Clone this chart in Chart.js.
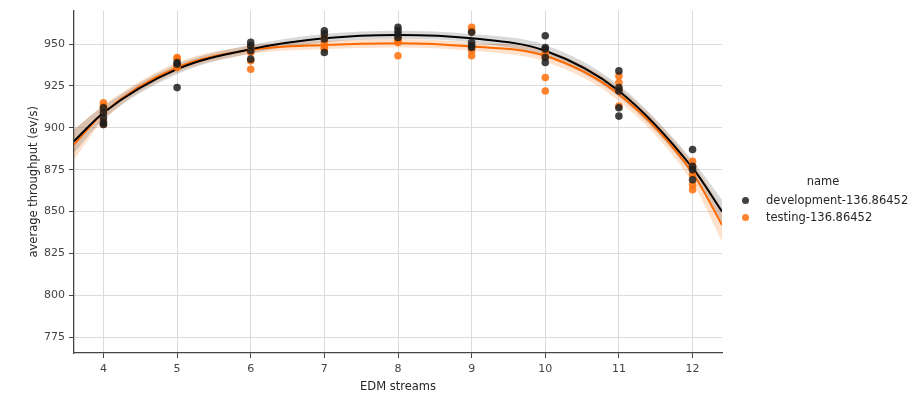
<!DOCTYPE html>
<html>
<head>
<meta charset="utf-8">
<script src="https://cdn.jsdelivr.net/npm/chart.js@4/dist/chart.umd.min.js"></script>
<style>
  html, body { margin: 0; padding: 0; background: #fff; }
  #wrap { position: relative; width: 923px; height: 404px; }
  #legend { position: absolute; left: 734px; top: 174px; font-family: "DejaVu Sans", sans-serif; font-size: 11.5px; color: #262626; }
  #legend .title { text-align: center; margin-bottom: 4px; padding-left: 4px; }
  #legend .item { height: 17px; line-height: 17px; white-space: nowrap; }
  #legend .dot { display: inline-block; width: 7px; height: 7px; border-radius: 50%; margin: 0 17px 1px 8px; vertical-align: middle; }
</style>
</head>
<body>
<div id="wrap">
  <canvas id="chart" width="923" height="404"></canvas>
  <div id="legend"></div>
</div>
<script>
// Series names
const seriesNames = ["development-136.86452", "testing-136.86452"];

// Axis ticks
const xTicks = [4, 5, 6, 7, 8, 9, 10, 11, 12];
const yTicks = [775, 800, 825, 850, 875, 900, 925, 950];

const devStreams = [4,4,4,4,4, 5,5,5, 6,6,6,6, 7,7,7,7, 8,8,8,8, 9,9,9,9, 10,10,10,10,10, 11,11,11,11,11, 12,12,12,12];
const devThroughput = [912,909,906,903,902, 939,938,924, 951,949,946,941, 958,956,953,945, 960,958,956,954, 957,951,949,948, 955,948,947,942,939, 934,924,922,912,907, 887,877,875,869];

const testStreams = [4,4,4,4,4, 5,5,5,5, 6,6,6,6, 7,7,7,7, 8,8,8,8, 9,9,9,9, 10,10,10,10, 11,11,11,11, 12,12,12,12,12];
const testThroughput = [915,913,910,904,902, 942,941,937,936, 948,945,940,935, 954,951,948,947, 953,952,951,943, 960,958,946,943, 945,943,930,922, 931,927,923,913, 880,877,872,866,863];

// Regression curves and confidence bands
const curveX = [3.6, 4, 5, 6, 7, 8, 9, 10, 11, 12, 12.4];
const devCurve = [892, 909, 935, 947, 953.5, 955.5, 953.5, 946, 922, 876, 850];
const devUpper = [899, 913, 938, 949.5, 956, 958, 956, 949.5, 925.5, 880.5, 857];
const devLower = [885, 905, 932, 944.5, 951, 953, 951, 942.5, 918.5, 871.5, 843];
const testCurve = [890, 909, 936, 946.5, 949.5, 950.5, 948.5, 943, 920, 873, 842];
const testUpper = [899, 913.5, 939, 949, 952, 953, 951, 946.5, 924, 879, 852];
const testLower = [881, 904.5, 933, 944, 947, 948, 946, 939.5, 916, 867, 832];

// Colours
const darkPoint = "rgba(30,30,30,0.85)";
const orangePoint = "rgba(255,110,10,0.85)";
const darkLine = "#000000";
const orangeLine = "#ff6a00";

const toXY = (xs, ys) => xs.map((x, i) => ({ x: x, y: ys[i] }));

function lineSet(label, ys, color, width, fill, bg) {
  return {
    type: "line",
    label: label,
    data: toXY(curveX, ys),
    borderColor: color,
    borderWidth: width,
    backgroundColor: bg || "transparent",
    pointRadius: 0,
    cubicInterpolationMode: "monotone",
    fill: fill
  };
}

const datasets = [
  // points on top
  { type: "scatter", label: seriesNames[0], data: toXY(devStreams, devThroughput), backgroundColor: darkPoint, borderWidth: 0, pointRadius: 3.8 },
  { type: "scatter", label: seriesNames[1], data: toXY(testStreams, testThroughput), backgroundColor: orangePoint, borderWidth: 0, pointRadius: 3.8 },
  lineSet("dev fit", devCurve, darkLine, 2, false),
  lineSet("test fit", testCurve, orangeLine, 2, false),
  lineSet("dev upper", devUpper, "transparent", 0, false),
  lineSet("dev lower", devLower, "transparent", 0, "-1", "rgba(0,0,0,0.15)"),
  lineSet("test upper", testUpper, "transparent", 0, false),
  lineSet("test lower", testLower, "transparent", 0, "-1", "rgba(255,110,10,0.2)")
];

const tickFont = { family: "DejaVu Sans", size: 11 };
const titleFont = { family: "DejaVu Sans", size: 11.5 };

new Chart(document.getElementById("chart").getContext("2d"), {
  data: { datasets },
  options: {
    responsive: false,
    animation: false,
    events: [],
    layout: { padding: { top: 10, right: 201, left: 0, bottom: 0 } },
    plugins: { legend: { display: false }, tooltip: { enabled: false } },
    scales: {
      x: {
        type: "linear",
        min: 3.6,
        max: 12.4,
        afterBuildTicks: s => { s.ticks = xTicks.map(v => ({ value: v })); },
        afterFit: s => { s.height = 51; },
        ticks: { font: tickFont, color: "#444", padding: 5, callback: v => String(v), maxRotation: 0 },
        grid: { color: "#dcdcdc", lineWidth: 1, tickColor: "#444", tickLength: 5 },
        border: { color: "#444", width: 1.3 },
        title: { display: true, text: "EDM streams", font: titleFont, color: "#262626", padding: { top: 2, bottom: 10 } }
      },
      y: {
        type: "linear",
        min: 765.5,
        max: 970,
        afterBuildTicks: s => { s.ticks = yTicks.map(v => ({ value: v })); },
        afterFit: s => { s.width = 74; },
        ticks: { font: tickFont, color: "#444", padding: 4, callback: v => String(v) },
        grid: { color: "#dcdcdc", lineWidth: 1, tickColor: "#444", tickLength: 5 },
        border: { color: "#444", width: 1.3 },
        title: { display: true, text: "average throughput (ev/s)", font: titleFont, color: "#262626", padding: { top: 27, bottom: 4 } }
      }
    }
  }
});

// Legend
const legend = document.getElementById("legend");
legend.innerHTML = '<div class="title">name</div>' +
  seriesNames.map((n, i) =>
    '<div class="item"><span class="dot" style="background:' + (i === 0 ? darkPoint : orangePoint) + '"></span>' + n + '</div>'
  ).join("");
</script>
</body>
</html>
